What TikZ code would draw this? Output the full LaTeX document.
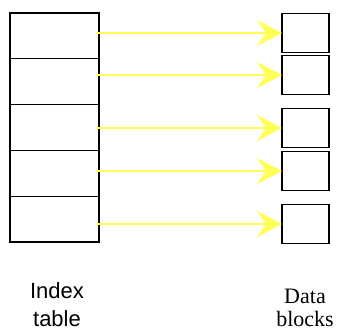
\documentclass[tikz,border=0pt]{standalone}
\usepackage{fontspec}
\usepackage{tikz}
\usetikzlibrary{arrows.meta}
\newfontfamily\sanslbl{Liberation Sans}
\newfontfamily\seriflbl{Liberation Serif}
\definecolor{ptryellow}{RGB}{255,255,85}

\begin{document}
\begin{tikzpicture}[x=1pt,y=-1pt,line cap=round,
  idxcell/.style={draw,line width=1.2pt,minimum width=89pt,minimum height=45.8pt,inner sep=0pt,outer sep=0pt},
  blkcell/.style={draw,line width=1.2pt,minimum width=47pt,minimum height=39pt,inner sep=0pt,outer sep=0pt},
  ptr/.style={ptryellow,line width=1.5pt,-{Stealth[length=25pt,width=26pt,inset=9pt]}}]
\useasboundingbox (0,0) rectangle (343,330);
% index table
\node[idxcell] (idx1) at (54.5,35.9) {};
\node[idxcell] (idx2) at (54.5,81.7) {};
\node[idxcell] (idx3) at (54.5,127.5) {};
\node[idxcell] (idx4) at (54.5,173.3) {};
\node[idxcell] (idx5) at (54.5,219.1) {};
% data blocks
\node[blkcell] (blk1) at (305.5,33) {};
\node[blkcell] (blk2) at (305.5,75) {};
\node[blkcell] (blk3) at (305.5,128) {};
\node[blkcell] (blk4) at (305.5,171) {};
\node[blkcell] (blk5) at (305.5,224) {};
% pointers
\draw[ptr] ([xshift=-2pt]idx1.east |- blk1.west) -- (blk1.west);
\draw[ptr] ([xshift=-2pt]idx2.east |- blk2.west) -- (blk2.west);
\draw[ptr] ([xshift=-2pt]idx3.east |- blk3.west) -- (blk3.west);
\draw[ptr] ([xshift=-2pt]idx4.east |- blk4.west) -- (blk4.west);
\draw[ptr] ([xshift=-2pt]idx5.east |- blk5.west) -- (blk5.west);
% labels
\node[anchor=base,align=center,font=\sanslbl\fontsize{22}{28}\selectfont] (idxlbl) at (57,326) {Index\\table};
\node[anchor=base,align=center,font=\seriflbl\fontsize{22}{23}\selectfont] (blklbl) at (305,326) {Data\\blocks};
\end{tikzpicture}
\end{document}
